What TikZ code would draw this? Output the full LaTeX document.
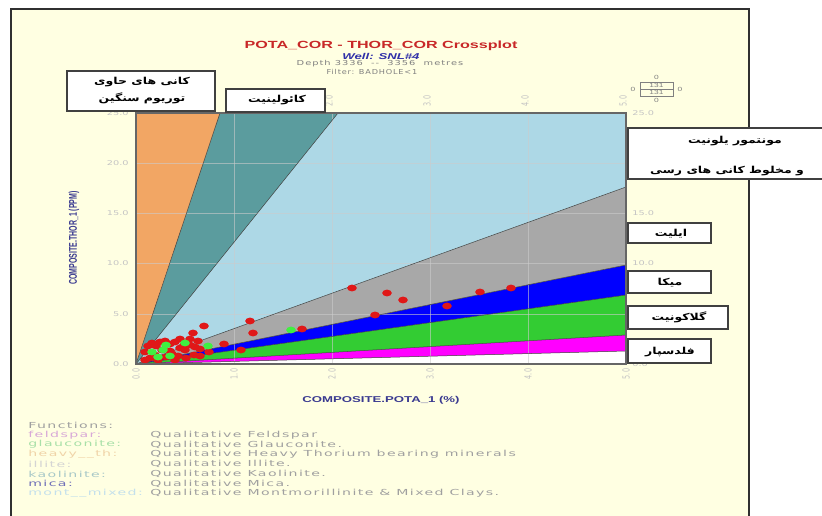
\documentclass[tikz,border=0pt]{standalone}
\usepackage{fontspec}
\usepackage{graphicx}
\setmainfont{Liberation Sans}
\newfontfamily\fafont[Script=Arabic]{DejaVu Sans}
\newfontfamily\legfont[LetterSpace=10]{DejaVu Sans}
\newfontfamily\tickfont{DejaVu Sans}
\newfontfamily\depthfont[LetterSpace=10]{DejaVu Sans}
\TeXXeTstate=1
\definecolor{pagebg}{HTML}{FFFFE2}
\definecolor{pageline}{HTML}{303030}
\definecolor{orangec}{HTML}{F2A664}
\definecolor{tealc}{HTML}{5B9C9E}
\definecolor{lbluec}{HTML}{ADD8E6}
\definecolor{grayc}{HTML}{A8A8A8}
\definecolor{bluec}{HTML}{0000FF}
\definecolor{greenc}{HTML}{33CC33}
\definecolor{magc}{HTML}{FF00FF}
\definecolor{dotred}{HTML}{E01818}
\definecolor{dotgreen}{HTML}{40F040}
\definecolor{tickc}{HTML}{C4C4C4}
\definecolor{axisc}{HTML}{3A3A90}
\definecolor{titlec}{HTML}{C82828}
\definecolor{wellc}{HTML}{3030A8}
\definecolor{depthc}{HTML}{808080}
\definecolor{descc}{HTML}{A0A0A0}
\definecolor{boxc}{HTML}{404040}
\definecolor{cfeld}{HTML}{D8A8D8}
\definecolor{cglau}{HTML}{A8E0A8}
\definecolor{cheavy}{HTML}{F0D4A8}
\definecolor{cillite}{HTML}{D4D4D4}
\definecolor{ckaol}{HTML}{A8C8C8}
\definecolor{cmica}{HTML}{7070B8}
\definecolor{cmont}{HTML}{C4E0EC}
\newcommand\hsc[1]{\scalebox{1.3}[1]{#1}}
\newcommand\fatxt[1]{\hsc{\fafont\bfseries\beginR #1\endR}}
\begin{document}
\begin{tikzpicture}[x=1pt,y=-1pt,
  lbl/.style={draw=boxc, line width=1.2pt, fill=white, inner sep=0pt},
  fatext/.style={font=\fontsize{9.6}{11}\selectfont, inner sep=0pt},
  tick/.style={font=\fontsize{6.5}{8}\selectfont\tickfont, text=tickc, xscale=1.5, inner sep=0pt},
  leg/.style={font=\fontsize{8.3}{10}\selectfont\legfont, xscale=1.7, anchor=west, inner sep=0pt},
  bnd/.style={draw=black!75, line width=0.5pt},
  gridl/.style={draw=gray!40, line width=0.5pt, opacity=0.6},
  rdot/.style={fill=dotred},
  gdot/.style={fill=dotgreen}]
\useasboundingbox (0,0) rectangle (822,516);
\fill[white] (0,0) rectangle (822,516);
\draw[line width=1.4pt, draw=pageline, fill=pagebg] (11,9) rectangle (749,540);

% titles
\node[font=\fontsize{10.4}{12}\selectfont\bfseries, text=titlec, xscale=1.55, inner sep=0pt] (title) at (381,46) {POTA\_COR - THOR\_COR Crossplot};
\node[font=\fontsize{8.5}{10}\selectfont\bfseries\itshape, text=wellc, xscale=1.55, inner sep=0pt] (well) at (381,56) {Well: SNL\#4};
\node[font=\fontsize{6.8}{8}\selectfont\depthfont, text=depthc, xscale=1.45, inner sep=0pt] (depth) at (380,64) {Depth 3336 \ -- \ 3356 \ metres};
\node[font=\fontsize{6.8}{8}\selectfont\depthfont, text=depthc, xscale=1.2, inner sep=0pt] (filter) at (372,72) {Filter: BADHOLE<1};

% icon
\draw[draw=gray, line width=0.8pt] (640,82) rectangle (673,96);
\draw[draw=gray, line width=0.8pt] (640,89) -- (673,89);
\node[font=\fontsize{6}{7}\selectfont, text=gray, xscale=1.4, inner sep=0pt] (ia) at (656.5,85.7) {131};
\node[font=\fontsize{6}{7}\selectfont, text=gray, xscale=1.4, inner sep=0pt] (ib) at (656.5,92.7) {131};
\node[font=\fontsize{6}{7}\selectfont, text=gray, xscale=1.4, inner sep=0pt] (i1) at (656.5,77.5) {0};
\node[font=\fontsize{6}{7}\selectfont, text=gray, xscale=1.4, inner sep=0pt] (i2) at (656.5,100.5) {0};
\node[font=\fontsize{6}{7}\selectfont, text=gray, xscale=1.4, inner sep=0pt] (i3) at (633,89) {0};
\node[font=\fontsize{6}{7}\selectfont, text=gray, xscale=1.4, inner sep=0pt] (i4) at (680,89) {0};

% plot fills
\coordinate (O) at (136,364);
\fill[white]   (O) -- (626,364) -- (626,351) -- cycle;
\fill[magc]    (O) -- (626,351) -- (626,335) -- cycle;
\fill[greenc]  (O) -- (626,335) -- (626,295) -- cycle;
\fill[bluec]   (O) -- (626,295) -- (626,265) -- cycle;
\fill[grayc]   (O) -- (626,265) -- (626,187) -- cycle;
\fill[lbluec]  (O) -- (626,187) -- (626,113) -- (338,113) -- cycle;
\fill[tealc]   (O) -- (338,113) -- (220,113) -- cycle;
\fill[orangec] (O) -- (220,113) -- (136,113) -- cycle;
\foreach \x in {234,332,430,528} \draw[gridl] (\x,113) -- (\x,364);
\foreach \y in {163.2,213.4,263.6,313.8} \draw[gridl] (136,\y) -- (626,\y);
\draw[bnd] (O) -- (626,351);
\draw[bnd] (O) -- (626,335);
\draw[bnd] (O) -- (626,295);
\draw[bnd] (O) -- (626,265);
\draw[bnd] (O) -- (626,187);
\draw[bnd] (O) -- (338,113);
\draw[bnd] (O) -- (220,113);

% data
\foreach \p in {(145,352),(148,346),(152,343),(156,346),(160,342),(165,341),(170,344),(175,342),(180,348),(185,350),(190,345),(195,347),(200,349),(150,358),(158,360),(166,357),(172,354),(178,356),(186,358),(194,355),(162,350),(170,351),(180,339),(190,339),(175,360),(155,355),(184,345),(198,341),(204,326),(193,333),(224,344),(241,350),(209,352),(250,321),(253,333),(302,329),(352,288),(387,293),(403,300),(447,306),(480,292),(511,288),(375,315),(145,360),(200,356)}
  \fill[rdot] \p ellipse [x radius=4.8, y radius=3.4];
\foreach \p in {(152,352),(163,350),(158,357),(185,343),(208,346),(291,330),(170,356),(166,345)}
  \fill[gdot] \p ellipse [x radius=4.8, y radius=3.4];

\draw[draw=gray!80!black, line width=1.5pt] (136,113) rectangle (626,364);

% ticks
\foreach \v/\y in {0/364,5/313.8,10/263.6,15/213.4,20/163.2,25/113} {
  \node[tick, anchor=east] (l\v) at (129,\y) {\v.0};
  \node[tick, anchor=west] (r\v) at (632,\y) {\v.0};
}
\foreach \v/\x in {0/136,1/234,2/332,3/430,4/528,5/626} {
  \node[tick, rotate=90] (b\v) at (\x,374) {\v.0};
  \node[tick, rotate=90] (t\v) at (\x-3,101) {\v.0};
}

% axis labels
\node[font=\fontsize{7}{8}\selectfont\bfseries, text=axisc, xscale=1.6, rotate=90, inner sep=0pt] (ylab) at (74,238) {COMPOSITE.THOR\_1 (PPM)};
\node[font=\fontsize{8.5}{10}\selectfont\bfseries, text=axisc, xscale=1.55, inner sep=0pt] (xlab) at (381,400) {COMPOSITE.POTA\_1 (\%)};

% label boxes
\node[lbl, minimum width=148pt, minimum height=40pt] (heavy) at (141,91) {};
\node[fatext] (heavy1) at (142,82) {\fatxt{کانی های حاوی}};
\node[fatext] (heavy2) at (142,98) {\fatxt{توریوم سنگین}};
\node[lbl, minimum width=99pt, minimum height=23pt] (kaol) at (275.5,100.5) {};
\node[fatext] (kaolt) at (277,100.5) {\fatxt{کائولینیت}};
\node[lbl, minimum width=202pt, minimum height=51pt] (mont) at (729,153.5) {};
\node[fatext] (mont1) at (735,141) {\fatxt{مونتمور یلونیت}};
\node[fatext] (mont2) at (727,171) {\fatxt{و مخلوط کانی های رسی}};
\node[lbl, minimum width=83pt, minimum height=20pt] (illite) at (669.5,233) {};
\node[fatext] (illitet) at (671,234) {\fatxt{ایلیت}};
\node[lbl, minimum width=83pt, minimum height=22pt] (mica) at (669.5,282) {};
\node[fatext] (micat) at (670,283) {\fatxt{میکا}};
\node[lbl, minimum width=100pt, minimum height=23pt] (glau) at (678,317.5) {};
\node[fatext] (glaut) at (679,317.5) {\fatxt{گلاکونیت}};
\node[lbl, minimum width=83pt, minimum height=24pt] (feld) at (669.5,351) {};
\node[fatext] (feldt) at (670,352) {\fatxt{فلدسپار}};

% legend
\node[leg, text=descc] (fn) at (28,425) {Functions:};
\foreach \i/\nm/\cl/\ds in {1/feldspar:/cfeld/Qualitative Feldspar,
  2/glauconite:/cglau/Qualitative Glauconite.,
  3/heavy\_\_th:/cheavy/Qualitative Heavy Thorium bearing minerals,
  4/illite:/cillite/Qualitative Illite.,
  5/kaolinite:/ckaol/Qualitative Kaolinite.,
  6/mica:/cmica/Qualitative Mica.,
  7/mont\_\_mixed:/cmont/Qualitative Montmorillinite \& Mixed Clays.} {
  \node[leg, text=\cl] (n\i) at (28,425+9.8*\i) {\nm};
  \node[leg, text=descc] (d\i) at (150,425+9.8*\i) {\ds};
}
\end{tikzpicture}
\end{document}
